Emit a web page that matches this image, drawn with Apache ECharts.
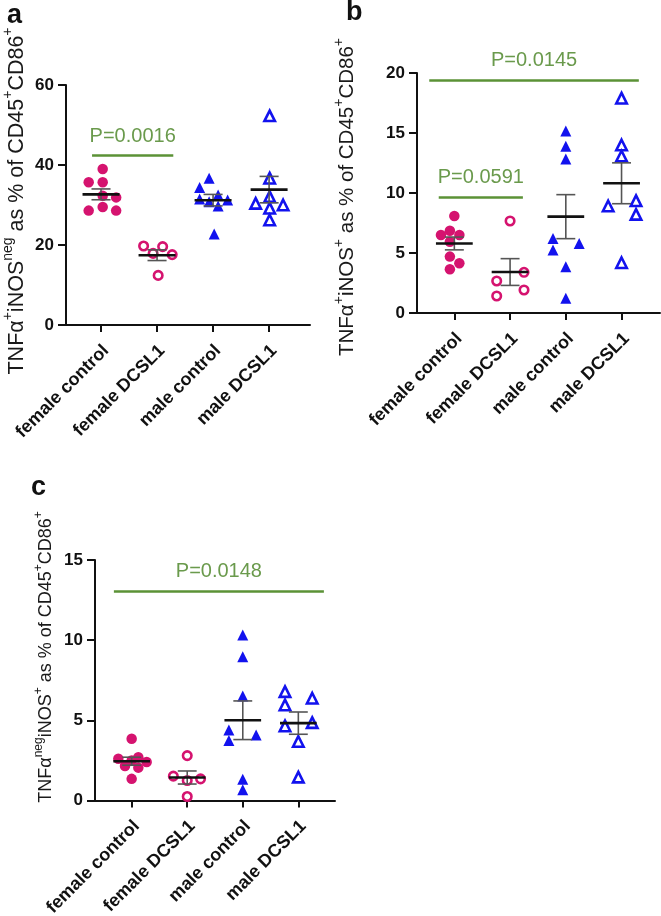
<!DOCTYPE html>
<html><head><meta charset="utf-8">
<script src="https://cdn.jsdelivr.net/npm/echarts@6/dist/echarts.min.js"></script>
<style>html,body{margin:0;padding:0;background:#fff}#c{width:661px;height:916px}</style>
</head><body><div id="c"></div>
<script>
// ---------- data ----------
const categories = ['female control', 'female DCSL1', 'male control', 'male DCSL1'];

const yTicksA = [0, 20, 40, 60];
const yTicksB = [0, 5, 10, 15, 20];
const yTicksC = [0, 5, 10, 15];

// panel a: TNFa+ iNOSneg
const aFemaleControl = [39.0, 35.7, 35.7, 32.3, 31.9, 29.5, 28.6, 28.6];
const aFemaleDCSL1   = [19.75, 19.6, 17.9, 17.6, 12.4];
const aMaleControl   = [36.7, 34.4, 31.5, 30.8, 32.5, 29.75, 31.25, 22.75];
const aMaleDCSL1     = [52.3, 36.7, 32.1, 30.4, 30.0, 29.2, 26.25];
// horizontal spread of points within a category (category units)
const aSpread = [
  [0.03, -0.22, 0.03, 0.03, 0.27, 0.03, -0.22, 0.27],
  [-0.24, 0.1, -0.07, 0.27, 0.02],
  [-0.07, -0.24, -0.24, -0.07, 0.09, 0.09, 0.26, 0.02],
  [0.01, 0.01, 0.01, -0.24, 0.25, 0.01, 0.01]
];

// panel b: TNFa+ iNOS+
const bFemaleControl = [8.08, 6.5, 6.86, 6.5, 5.94, 4.7, 4.14, 3.64];
const bFemaleDCSL1   = [7.67, 3.39, 2.67, 1.92, 1.42];
const bMaleControl   = [15.17, 13.9, 12.83, 6.2, 5.25, 5.8, 3.86, 1.22];
const bMaleDCSL1     = [17.9, 14.0, 13.08, 8.92, 9.36, 8.22, 4.19];
const bSpread = [
  [0, -0.24, -0.08, 0.09, -0.08, -0.08, 0.09, -0.08],
  [0, 0.25, -0.24, 0.25, -0.24],
  [0, 0, 0, -0.23, -0.23, 0.24, 0, 0],
  [0, 0, 0, -0.24, 0.26, 0.26, 0]
];

// panel c: TNFa neg iNOS+
const cFemaleControl = [3.85, 2.6, 2.7, 2.5, 2.4, 2.15, 2.05, 1.35];
const cFemaleDCSL1   = [2.8, 1.52, 1.25, 1.35, 0.25];
const cMaleControl   = [10.32, 8.97, 6.52, 4.4, 3.74, 4.09, 1.33, 0.67];
const cMaleDCSL1     = [6.79, 5.96, 6.38, 4.65, 4.86, 3.68, 1.46];
const cSpread = [
  [0, -0.24, 0.12, 0, 0.27, -0.12, 0.12, 0],
  [0, -0.25, 0, 0.24, 0],
  [0, 0, 0, -0.25, -0.25, 0.24, 0, 0],
  [-0.24, -0.24, 0.25, -0.24, 0.25, 0, 0]
];

// significance brackets: [fromCategory, toCategory, value level, label]
const aBrackets = [[-0.43, 3.3, 61, 'P=0.0075'], [-0.16, 1.29, 42.5, 'P=0.0016']];
const bBrackets = [[-0.45, 3.31, 19.42, 'P=0.0145'], [-0.28, 1.23, 9.67, 'P=0.0591']];
const cBrackets = [[-0.32, 3.46, 13.07, 'P=0.0148']];

// ---------- styles ----------
const MAG = '#d5136f', BLUE = '#1212ee', GREEN = '#5b9236', GTEXT = '#6a9a4c';
const FONT = '"Liberation Sans", Arial, sans-serif';
const groupStyles = [
  {symbol: 'circle', size: 10.5, color: MAG, open: false},
  {symbol: 'circle', size: 8.5, color: MAG, open: true},
  {symbol: 'triangle', size: 11, color: BLUE, open: false},
  {symbol: 'triangle', size: 10.5, color: BLUE, open: true}
];

const panels = [
  {groups: [aFemaleControl, aFemaleDCSL1, aMaleControl, aMaleDCSL1], spread: aSpread, ticks: yTicksA, brackets: aBrackets,
   grid: {left: 66, top: 85, width: 244, height: 240}, xr: [-0.625, 3.73]},
  {groups: [bFemaleControl, bFemaleDCSL1, bMaleControl, bMaleDCSL1], spread: bSpread, ticks: yTicksB, brackets: bBrackets,
   grid: {left: 417, top: 73, width: 243, height: 240}, xr: [-0.67, 3.69]},
  {groups: [cFemaleControl, cFemaleDCSL1, cMaleControl, cMaleDCSL1], spread: cSpread, ticks: yTicksC, brackets: cBrackets,
   grid: {left: 95, top: 560, width: 240, height: 240.5}, xr: [-0.66, 3.66]}
];

function mean(a) { return a.reduce((s, v) => s + v, 0) / a.length; }
function sem(a) {
  const m = mean(a);
  const sd = Math.sqrt(a.reduce((s, v) => s + (v - m) * (v - m), 0) / (a.length - 1));
  return sd / Math.sqrt(a.length);
}

const catIdx = categories.map((c, i) => i);
const grids = [], xAxes = [], yAxes = [], series = [];
panels.forEach((p, pi) => {
  grids.push(Object.assign({outerBoundsMode: 'none', containLabel: false}, p.grid));
  xAxes.push({
    type: 'value', gridIndex: pi, min: p.xr[0], max: p.xr[1],
    splitLine: {show: false},
    axisLine: {show: true, onZero: false, lineStyle: {color: '#111', width: 2}},
    axisTick: {show: true, customValues: catIdx, length: 7, lineStyle: {color: '#111', width: 2}},
    axisLabel: {
      show: true, customValues: catIdx.map(i => i + 0.09), rotate: 45, margin: 23,
      formatter: v => categories[Math.round(v)] || '',
      color: '#111', fontFamily: FONT, fontWeight: 'bold', fontSize: 18
    }
  });
  const t = p.ticks;
  yAxes.push({
    type: 'value', gridIndex: pi, min: t[0], max: t[t.length - 1], interval: t[1] - t[0],
    splitLine: {show: false},
    axisLine: {show: true, onZero: false, lineStyle: {color: '#111', width: 2}},
    axisTick: {show: true, length: 8, lineStyle: {color: '#111', width: 2}},
    axisLabel: {color: '#111', fontFamily: FONT, fontWeight: 'bold', fontSize: 17, margin: 12}
  });
  p.groups.forEach((vals, g) => {
    const st = groupStyles[g];
    series.push({
      type: 'scatter', xAxisIndex: pi, yAxisIndex: pi, clip: false, z: 3,
      symbol: st.symbol, symbolSize: st.size,
      itemStyle: st.open ? {color: '#fff', borderColor: st.color, borderWidth: 2.6, opacity: 1} : {color: st.color, opacity: 1},
      data: vals.map((v, i) => [g + p.spread[g][i], v])
    });
  });
  series.push({
    type: 'custom', xAxisIndex: pi, yAxisIndex: pi, z: 5, clip: false,
    data: p.groups.map((vals, g) => [g, mean(vals), sem(vals)]),
    renderItem: function (params, api) {
      const x = api.value(0), m = api.value(1), s = api.value(2);
      const pm = api.coord([x, m]), pu = api.coord([x, m + s]), pl = api.coord([x, m - s]);
      const unit = api.size([1, 0])[0];
      const hw = unit * 0.33, cw = unit * 0.17;
      const eb = {stroke: '#555', lineWidth: 1.6};
      return {type: 'group', children: [
        {type: 'line', shape: {x1: pm[0], y1: pu[1], x2: pm[0], y2: pl[1]}, style: eb},
        {type: 'line', shape: {x1: pm[0] - cw, y1: pu[1], x2: pm[0] + cw, y2: pu[1]}, style: eb},
        {type: 'line', shape: {x1: pm[0] - cw, y1: pl[1], x2: pm[0] + cw, y2: pl[1]}, style: eb},
        {type: 'line', shape: {x1: pm[0] - hw, y1: pm[1], x2: pm[0] + hw, y2: pm[1]}, style: {stroke: '#111', lineWidth: 2.6}}
      ]};
    },
    markLine: {
      silent: true, symbol: ['none', 'none'], animation: false,
      lineStyle: {color: GREEN, width: 2.6, type: 'solid'},
      label: {show: true, position: 'insideMiddleTop', distance: 9, color: GTEXT, fontFamily: FONT, fontSize: 20},
      data: p.brackets.map(b => [
        {coord: [b[0], b[2]], label: {formatter: b[3]}},
        {coord: [b[1], b[2]]}
      ])
    }
  });
});

function makeRich(fs) {
  return {
    n: {fontFamily: FONT, fontSize: fs, lineHeight: Math.round(fs * 1.25), verticalAlign: 'bottom', fill: '#1a1a1a'},
    s: {fontFamily: FONT, fontSize: Math.round(fs * 0.66), lineHeight: Math.round(fs * 0.62), verticalAlign: 'top', fill: '#1a1a1a'}
  };
}
function yTitle(text, x, y, fs) {
  return {type: 'text', x: x, y: y, rotation: Math.PI / 2, z: 10,
    style: {text: text, rich: makeRich(fs), font: fs + 'px ' + FONT, fill: '#1a1a1a', align: 'center', verticalAlign: 'middle'}};
}
function letter(t, x, y) {
  return {type: 'text', x: x, y: y, z: 10,
    style: {text: t, font: 'bold 27px ' + FONT, fill: '#111', align: 'left', verticalAlign: 'bottom'}};
}

const chart = echarts.init(document.getElementById('c'), null, {renderer: 'canvas'});
chart.setOption({
  animation: false,
  backgroundColor: '#fff',
  grid: grids, xAxis: xAxes, yAxis: yAxes, series: series,
  graphic: [
    letter('a', 7, 29), letter('b', 346, 26), letter('c', 31, 501),
    yTitle('{n|TNFα}{s|+}{n|iNOS}{s|neg}{n| as % of CD45}{s|+}{n|CD86}{s|+}', 15, 201, 21.5),
    yTitle('{n|TNFα}{s|+}{n|iNOS}{s|+}{n| as % of CD45}{s|+}{n|CD86}{s|+}', 345, 197, 20.5),
    yTitle('{n|TNFα}{s|neg}{n|iNOS}{s|+}{n| as % of CD45}{s|+}{n|CD86}{s|+}', 44, 657, 18)
  ]
});
</script></body></html>
